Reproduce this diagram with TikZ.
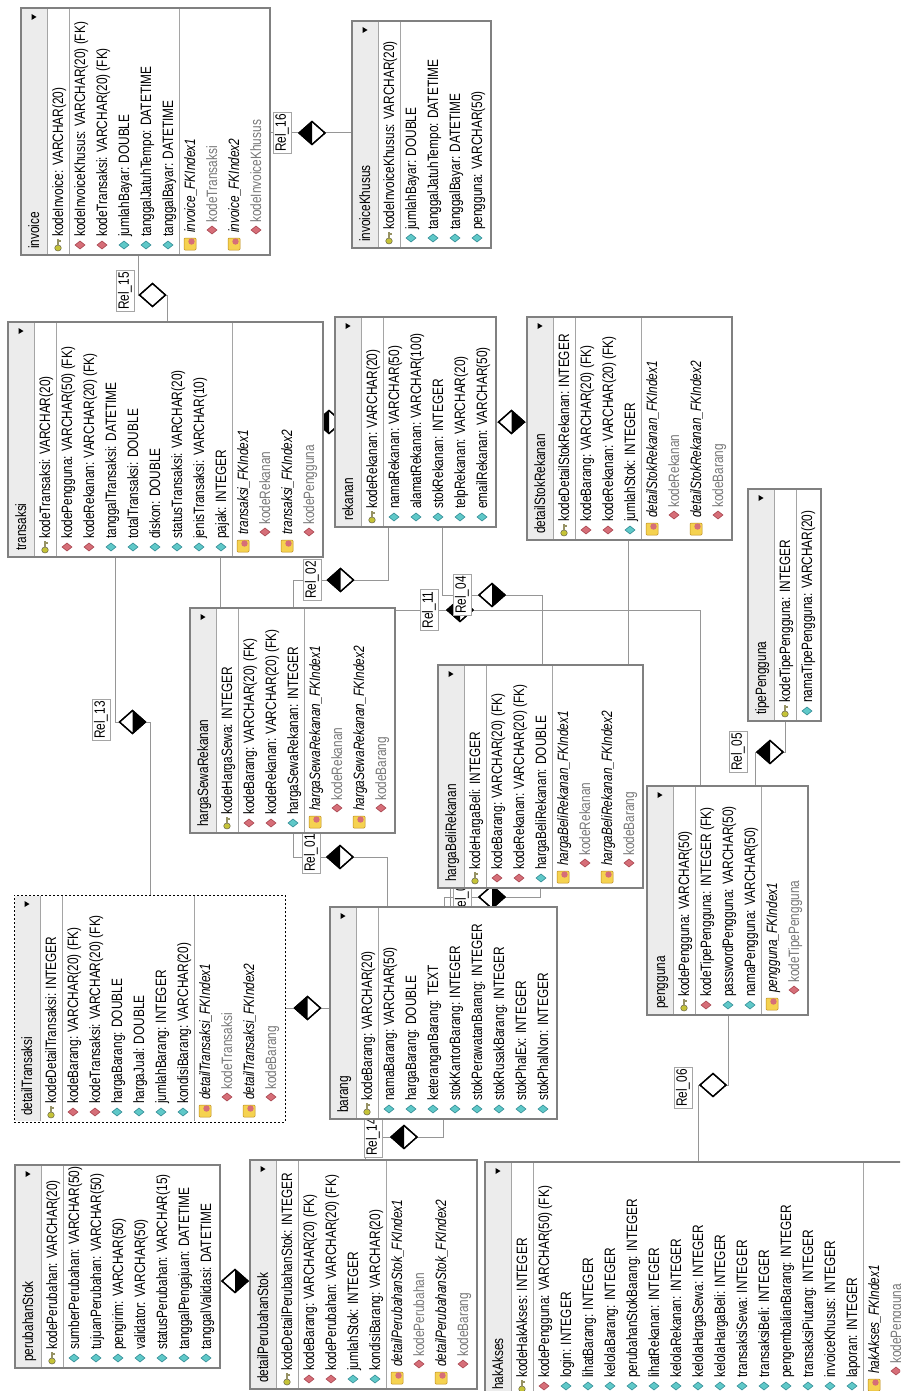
\documentclass[tikz,border=0pt]{standalone}
\usepackage{fontspec}
\setmainfont[FakeStretch=0.79]{Liberation Sans}
\usetikzlibrary{shapes.geometric}
\pgfdeclarelayer{bg}
\pgfdeclarelayer{conn}
\pgfdeclarelayer{marks}
\pgfsetlayers{bg,conn,marks,main}

\definecolor{bordc}{RGB}{128,128,128}
\definecolor{sepc}{RGB}{165,165,165}
\definecolor{headc}{RGB}{236,236,236}
\definecolor{connc}{RGB}{150,150,150}
\definecolor{keyc}{RGB}{150,146,100}
\definecolor{fkc}{RGB}{214,110,120}
\definecolor{fkd}{RGB}{160,60,70}
\definecolor{atc}{RGB}{95,200,200}
\definecolor{atd}{RGB}{40,130,140}
\definecolor{ixc}{RGB}{245,210,80}
\definecolor{ixd}{RGB}{190,140,30}
\definecolor{idxtext}{RGB}{120,120,120}

\tikzset{
  tablebox/.style={rectangle, draw=bordc, line width=1.5pt, fill=white, inner sep=0pt, outer sep=0pt},
  dashedbox/.style={draw=black, line width=1pt, dash pattern=on 2pt off 2pt},
  sepline/.style={draw=sepc, line width=0.8pt},
  rowtext/.style={rotate=90, inner sep=0pt, font=\fontsize{15}{18}\selectfont},
  conn/.style={draw=connc, line width=1pt},
  reldiamond/.style={shape=diamond, draw=black, fill=white, line width=1.3pt,
    minimum width=26pt, minimum height=23pt, inner sep=0pt, outer sep=0pt},
  rellabel/.style={rotate=90, draw=sepc, fill=white, line width=0.8pt,
    inner xsep=2pt, inner ysep=2pt, font=\fontsize{15}{18}\selectfont},
}

% ---- table helpers (drawn turned a quarter turn, header on the left) ----
\newcommand\dbtable[7][]{%
  \pgfmathsetmacro\dbw{29+22*#6}%
  \pgfmathsetmacro\dbh{#5-#4}%
  \node[tablebox,#1,minimum width=\dbw pt,minimum height=\dbh pt,anchor=north west] (#2) at (#3,#4) {};
  \fill[headc] (#3+0.75,#4+0.75) rectangle (#3+26,#5-0.75);
  \draw[sepline] (#3+26,#4+0.75) -- (#3+26,#5-0.75);
  \fill (#3+10.5,#4+6) -- (#3+10.5,#4+12) -- (#3+15.5,#4+9) -- cycle;
  \node[rowtext,anchor=base west] at (#3+18,#5-6) {#7};
  \xdef\dbT{#4}\xdef\dbB{#5}%
  \pgfmathsetmacro\dbx{#3+26}\xdef\dbx{\dbx}%
}
\newcommand\rowadvance{\pgfmathsetmacro\dbx{\dbx+22}\xdef\dbx{\dbx}}
\newcommand\keyicon[2]{%
  \filldraw[fill=keyc!55!yellow, draw=keyc!70!black, line width=0.5pt] (#1,#2+3) ellipse (3.3 and 3);
  \fill[keyc] (#1-1.1,#2+0.5) rectangle (#1+1.1,#2-6);
  \fill[keyc] (#1+1,#2-3.5) rectangle (#1+3.2,#2-5.5);
}
\newcommand\smalldia[4]{%
  \filldraw[fill=#3, draw=#4, line width=0.5pt] (#1-5,#2) -- (#1,#2-4) -- (#1+5,#2) -- (#1,#2+4) -- cycle;
}
\newcommand\ixicon[2]{%
  \filldraw[fill=ixc, draw=ixd, line width=0.5pt, rounded corners=1pt] (#1-6,#2-6) rectangle (#1+6,#2+6);
  \fill[fkc] (#1+1.5,#2-2.5) circle (3.2);
}
\newcommand\rowpk[1]{%
  \pgfmathsetmacro\dbrc{\dbx+11}%
  \keyicon{\dbrc}{\dbB-10}%
  \node[rowtext,anchor=base west] at (\dbrc+5,\dbB-18) {#1};
  \rowadvance}
\newcommand\rowfk[1]{%
  \pgfmathsetmacro\dbrc{\dbx+11}%
  \smalldia{\dbrc}{\dbB-10}{fkc}{fkd}%
  \node[rowtext,anchor=base west] at (\dbrc+5,\dbB-18) {#1};
  \rowadvance}
\newcommand\rowat[1]{%
  \pgfmathsetmacro\dbrc{\dbx+11}%
  \smalldia{\dbrc}{\dbB-10}{atc}{atd}%
  \node[rowtext,anchor=base west] at (\dbrc+5,\dbB-18) {#1};
  \rowadvance}
\newcommand\rowix[1]{%
  \pgfmathsetmacro\dbrc{\dbx+11}%
  \ixicon{\dbrc}{\dbB-11}%
  \node[rowtext,anchor=base west] at (\dbrc+5,\dbB-22) {\itshape #1};
  \rowadvance}
\newcommand\rowic[1]{%
  \pgfmathsetmacro\dbrc{\dbx+11}%
  \smalldia{\dbrc}{\dbB-25}{fkc}{fkd}%
  \node[rowtext,anchor=base west,text=idxtext] at (\dbrc+5,\dbB-32) {#1};
  \rowadvance}
\newcommand\rowsep{\draw[sepline] (\dbx,\dbT+0.75) -- (\dbx,\dbB-0.75);}

% relation diamond: name, x, y, filled half (l, r or n)
\newcommand\reldia[4]{%
  \node[reldiamond] (#1) at (#2,#3) {};
  \ifx#4l\fill (#1.north) -- (#1.west) -- (#1.south) -- cycle;\fi
  \ifx#4r\fill (#1.north) -- (#1.east) -- (#1.south) -- cycle;\fi
  \draw[line width=1.3pt] (#1.north) -- (#1.east) -- (#1.south) -- (#1.west) -- cycle;
}

\begin{document}
\begin{tikzpicture}[x=1pt,y=-1pt]
\useasboundingbox (0,0) rectangle (900,1391);
\begin{pgfonlayer}{bg}
  \fill[white] (0,0) rectangle (900,1391);
\end{pgfonlayer}
\clip (0,0) rectangle (900,1391);

% ---------------- tables ----------------
\dbtable{invoice}{21}{8}{255}{10}{invoice}
\rowpk{kodeInvoice: VARCHAR(20)}
\rowsep
\rowfk{kodeInvoiceKhusus: VARCHAR(20) (FK)}
\rowfk{kodeTransaksi: VARCHAR(20) (FK)}
\rowat{jumlahBayar: DOUBLE}
\rowat{tanggalJatuhTempo: DATETIME}
\rowat{tanggalBayar: DATETIME}
\rowsep
\rowix{invoice\_FKIndex1}
\rowic{kodeTransaksi}
\rowix{invoice\_FKIndex2}
\rowic{kodeInvoiceKhusus}

\dbtable{invoiceKhusus}{352}{21}{248}{5}{invoiceKhusus}
\rowpk{kodeInvoiceKhusus: VARCHAR(20)}
\rowsep
\rowat{jumlahBayar: DOUBLE}
\rowat{tanggalJatuhTempo: DATETIME}
\rowat{tanggalBayar: DATETIME}
\rowat{pengguna: VARCHAR(50)}

\dbtable{transaksi}{8}{322}{557}{13}{transaksi}
\rowpk{kodeTransaksi: VARCHAR(20)}
\rowsep
\rowfk{kodePengguna: VARCHAR(50) (FK)}
\rowfk{kodeRekanan: VARCHAR(20) (FK)}
\rowat{tanggalTransaksi: DATETIME}
\rowat{totalTransaksi: DOUBLE}
\rowat{diskon: DOUBLE}
\rowat{statusTransaksi: VARCHAR(20)}
\rowat{jenisTransaksi: VARCHAR(10)}
\rowat{pajak: INTEGER}
\rowsep
\rowix{transaksi\_FKIndex1}
\rowic{kodeRekanan}
\rowix{transaksi\_FKIndex2}
\rowic{kodePengguna}

\dbtable{rekanan}{335}{317}{527}{6}{rekanan}
\rowpk{kodeRekanan: VARCHAR(20)}
\rowsep
\rowat{namaRekanan: VARCHAR(50)}
\rowat{alamatRekanan: VARCHAR(100)}
\rowat{stokRekanan: INTEGER}
\rowat{telpRekanan: VARCHAR(20)}
\rowat{emailRekanan: VARCHAR(50)}

\dbtable{detailStokRekanan}{527}{317}{540}{8}{detailStokRekanan}
\rowpk{kodeDetailStokRekanan: INTEGER}
\rowsep
\rowfk{kodeBarang: VARCHAR(20) (FK)}
\rowfk{kodeRekanan: VARCHAR(20) (FK)}
\rowat{jumlahStok: INTEGER}
\rowsep
\rowix{detailStokRekanan\_FKIndex1}
\rowic{kodeRekanan}
\rowix{detailStokRekanan\_FKIndex2}
\rowic{kodeBarang}

\dbtable{tipePengguna}{748}{489}{721}{2}{tipePengguna}
\rowpk{kodeTipePengguna: INTEGER}
\rowsep
\rowat{namaTipePengguna: VARCHAR(20)}

\dbtable{hargaSewaRekanan}{190}{608}{833}{8}{hargaSewaRekanan}
\rowpk{kodeHargaSewa: INTEGER}
\rowsep
\rowfk{kodeBarang: VARCHAR(20) (FK)}
\rowfk{kodeRekanan: VARCHAR(20) (FK)}
\rowat{hargaSewaRekanan: INTEGER}
\rowsep
\rowix{hargaSewaRekanan\_FKIndex1}
\rowic{kodeRekanan}
\rowix{hargaSewaRekanan\_FKIndex2}
\rowic{kodeBarang}

\dbtable{hargaBeliRekanan}{438}{665}{888}{8}{hargaBeliRekanan}
\rowpk{kodeHargaBeli: INTEGER}
\rowsep
\rowfk{kodeBarang: VARCHAR(20) (FK)}
\rowfk{kodeRekanan: VARCHAR(20) (FK)}
\rowat{hargaBeliRekanan: DOUBLE}
\rowsep
\rowix{hargaBeliRekanan\_FKIndex1}
\rowic{kodeRekanan}
\rowix{hargaBeliRekanan\_FKIndex2}
\rowic{kodeBarang}

\dbtable[dashedbox]{detailTransaksi}{14}{895}{1122}{11}{detailTransaksi}
\rowpk{kodeDetailTransaksi: INTEGER}
\rowsep
\rowfk{kodeBarang: VARCHAR(20) (FK)}
\rowfk{kodeTransaksi: VARCHAR(20) (FK)}
\rowat{hargaBarang: DOUBLE}
\rowat{hargaJual: DOUBLE}
\rowat{jumlahBarang: INTEGER}
\rowat{kondisiBarang: VARCHAR(20)}
\rowsep
\rowix{detailTransaksi\_FKIndex1}
\rowic{kodeTransaksi}
\rowix{detailTransaksi\_FKIndex2}
\rowic{kodeBarang}

\dbtable{barang}{330}{907}{1119}{9}{barang}
\rowpk{kodeBarang: VARCHAR(20)}
\rowsep
\rowat{namaBarang: VARCHAR(50)}
\rowat{hargaBarang: DOUBLE}
\rowat{keteranganBarang: TEXT}
\rowat{stokKantorBarang: INTEGER}
\rowat{stokPerawatanBarang: INTEGER}
\rowat{stokRusakBarang: INTEGER}
\rowat{stokPhalEx: INTEGER}
\rowat{stokPhalNon: INTEGER}

\dbtable{perubahanStok}{15}{1165}{1368}{8}{perubahanStok}
\rowpk{kodePerubahan: VARCHAR(20)}
\rowsep
\rowat{sumberPerubahan: VARCHAR(50)}
\rowat{tujuanPerubahan: VARCHAR(50)}
\rowat{pengirim: VARCHAR(50)}
\rowat{validator: VARCHAR(50)}
\rowat{statusPerubahan: VARCHAR(15)}
\rowat{tanggalPengajuan: DATETIME}
\rowat{tanggalValidasi: DATETIME}

\dbtable{detailPerubahanStok}{250}{1160}{1389}{9}{detailPerubahanStok}
\rowpk{kodeDetailPerubahanStok: INTEGER}
\rowsep
\rowfk{kodeBarang: VARCHAR(20) (FK)}
\rowfk{kodePerubahan: VARCHAR(20) (FK)}
\rowat{jumlahStok: INTEGER}
\rowat{kondisiBarang: VARCHAR(20)}
\rowsep
\rowix{detailPerubahanStok\_FKIndex1}
\rowic{kodePerubahan}
\rowix{detailPerubahanStok\_FKIndex2}
\rowic{kodeBarang}

\dbtable{hakAkses}{485}{1162}{1396}{18}{hakAkses}
\rowpk{kodeHakAkses: INTEGER}
\rowsep
\rowfk{kodePengguna: VARCHAR(50) (FK)}
\rowat{login: INTEGER}
\rowat{lihatBarang: INTEGER}
\rowat{kelolaBarang: INTEGER}
\rowat{perubahanStokBarang: INTEGER}
\rowat{lihatRekanan: INTEGER}
\rowat{kelolaRekanan: INTEGER}
\rowat{kelolaHargaSewa: INTEGER}
\rowat{kelolaHargaBeli: INTEGER}
\rowat{transaksiSewa: INTEGER}
\rowat{transaksiBeli: INTEGER}
\rowat{pengembalianBarang: INTEGER}
\rowat{transaksiPiutang: INTEGER}
\rowat{invoiceKhusus: INTEGER}
\rowat{laporan: INTEGER}
\rowsep
\rowix{hakAkses\_FKIndex1}
\rowic{kodePengguna}

\dbtable{pengguna}{647}{786}{1015}{6}{pengguna}
\rowpk{kodePengguna: VARCHAR(50)}
\rowsep
\rowfk{kodeTipePengguna: INTEGER (FK)}
\rowat{passwordPengguna: VARCHAR(50)}
\rowat{namaPengguna: VARCHAR(50)}
\rowsep
\rowix{pengguna\_FKIndex1}
\rowic{kodeTipePengguna}

% ---------------- relation marks ----------------
\begin{pgfonlayer}{marks}
  \reldia{d16}{312}{133}{l}   \node[rellabel] (l16) at (282,133) {Rel\_16};
  \reldia{d15}{152.5}{295}{n} \node[rellabel] (l15) at (125,291) {Rel\_15};
  \reldia{d13}{132.5}{722}{r} \node[rellabel] (l13) at (101,720) {Rel\_13};
  \reldia{d09}{329}{422}{l}
  \reldia{d10}{511.5}{422}{r}
  \reldia{d02}{340.5}{580}{l} \node[rellabel] (l02) at (312,580) {Rel\_02};
  \reldia{d11}{460}{610}{l}   \node[rellabel] (l11) at (429,610) {Rel\_11};
  \reldia{d04}{492}{595}{r}   \node[rellabel] (l04) at (462,595) {Rel\_04};
  \reldia{d01}{340}{857}{l}   \node[rellabel] (l01) at (311,853) {Rel\_01};
  \reldia{d07}{539}{776}{r}
  \reldia{d03}{492}{897}{r}   \node[rellabel] (l03) at (462,897) {Rel\_03};
  \reldia{d08}{307.5}{1008}{l}
  \reldia{d14}{404}{1137}{l}  \node[rellabel] (l14) at (373,1137) {Rel\_14};
  \reldia{d12}{235}{1281}{r}
  \reldia{d05}{770}{752}{l}   \node[rellabel] (l05) at (738,752) {Rel\_05};
  \reldia{d06}{713}{1085}{n}  \node[rellabel] (l06) at (683,1088) {Rel\_06};
\end{pgfonlayer}

% ---------------- connectors ----------------
\begin{pgfonlayer}{conn}
  \draw[conn] (invoice.east |- d16) -- (d16) -- (invoiceKhusus.west |- d16);
  \draw[conn] ([xshift=117pt]invoice.south west) |- (d15) -| ([xshift=159pt]transaksi.north west);
  \draw[conn] ([xshift=107pt]transaksi.south west) |- (d13) -| ([xshift=136pt]detailTransaksi.north west);
  \draw[conn] (transaksi.east |- d09) -- (d09) -- (rekanan.west |- d09);
  \draw[conn] (rekanan.east |- d10) -- (d10) -- (detailStokRekanan.west |- d10);
  \draw[conn] ([xshift=53pt]rekanan.south west) |- (d02) -| ([xshift=103pt]hargaSewaRekanan.north west);
  \draw[conn] ([xshift=212pt]transaksi.south west) |- (d11) -| ([xshift=53pt]pengguna.north west);
  \draw[conn] ([xshift=107pt]rekanan.south west) |- (d04) -| ([xshift=104pt]hargaBeliRekanan.north west);
  \draw[conn] ([xshift=103pt]hargaSewaRekanan.south west) |- (d01) -| ([xshift=57pt]barang.north west);
  \draw[conn] ([xshift=101pt]detailStokRekanan.south west) |- (d07) -| ([xshift=120pt]barang.north west);
  \draw[conn] ([xshift=114pt]barang.north west) |- (d03) -| ([xshift=102pt]hargaBeliRekanan.south west);
  \draw[conn] (detailTransaksi.east |- d08) -- (d08) -- (barang.west |- d08);
  \draw[conn] ([xshift=115pt]detailPerubahanStok.north west) |- (d14) -| ([xshift=113pt]barang.south west);
  \draw[conn] (perubahanStok.east |- d12) -- (d12) -- (detailPerubahanStok.west |- d12);
  \draw[conn] ([xshift=108pt]pengguna.north west) |- (d05) -| ([xshift=37pt]tipePengguna.south west);
  \draw[conn] ([xshift=213pt]hakAkses.north west) |- (d06) -| ([xshift=81pt]pengguna.south west);
\end{pgfonlayer}
\end{tikzpicture}
\end{document}
